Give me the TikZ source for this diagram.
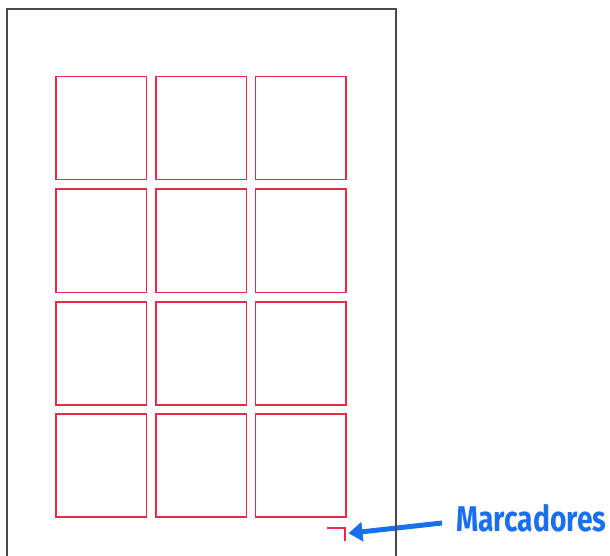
\documentclass[tikz,border=0pt]{standalone}
\usepackage{fontspec}
\setmainfont{Fira Sans}
\usetikzlibrary{arrows.meta}
\definecolor{cut}{HTML}{E8294A}
\definecolor{pageline}{HTML}{4A4A4A}
\definecolor{mblue}{HTML}{1A6EF0}
\begin{document}
\begin{tikzpicture}[x=1pt,y=-1pt,
  card/.style={draw=cut,line width=1.5pt,minimum width=90.5pt,minimum height=103pt,inner sep=0pt,anchor=north west},
  markline/.style={draw=cut,line width=1.6pt},
  pageedge/.style={draw=pageline,line width=1.6pt},
  pointer/.style={draw=mblue,line width=5pt,-{Triangle[length=14pt,width=19pt]}},
  lbl/.style={text=mblue,font=\fontsize{33.4}{36}\selectfont\bfseries,inner sep=0pt,anchor=base west}]
\useasboundingbox (0,0) rectangle (610,556);
% cards
\foreach \r/\y in {1/76,2/188.5,3/301,4/413}{
  \foreach \c/\x in {1/55,2/155,3/254.5}{
    \node[card] (c\r\c) at (\x,\y) {};
  }
}
% marker
\coordinate (mk) at (345,527.7);
\draw[markline] (327.3,527.7) -- (mk) -- (345,540.5);
% label and arrow
\node[lbl] (lab) at (456,531) {\resizebox{150pt}{!}{\scalebox{0.79}[1]{Marcadores}}};
\coordinate (tail) at (442,523);
\coordinate (tip) at (348.5,533.3);
\draw[pointer] (tail) -- (tip);
% page edge
\draw[pageedge] (7,560) -- (7,9) -- (396,9) -- (396,560);
\end{tikzpicture}
\end{document}
